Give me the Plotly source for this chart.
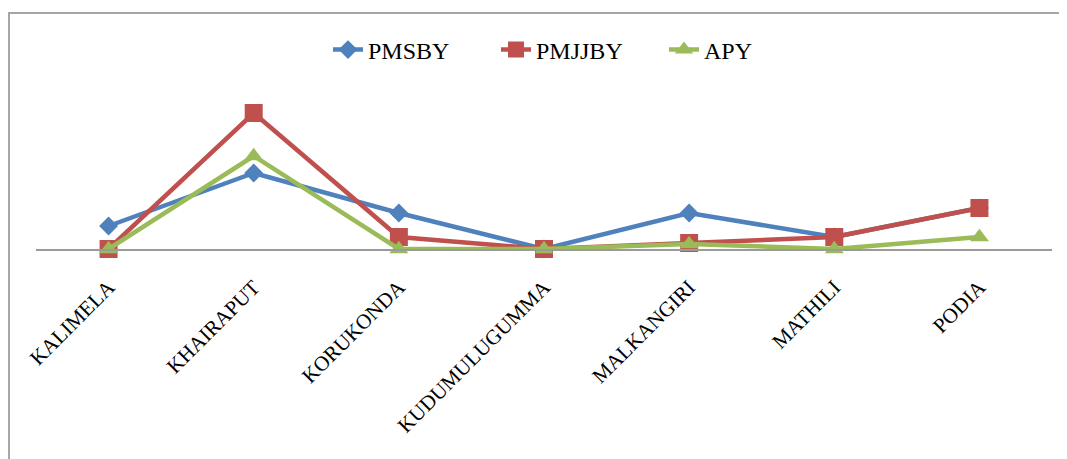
import plotly.graph_objects as go

categories = ["KALIMELA", "KHAIRAPUT", "KORUKONDA", "KUDUMULUGUMMA", "MALKANGIRI", "MATHILI", "PODIA"]
pmsby = [23, 76, 36, 0, 36, 12, 41]
pmjjby = [0, 136, 12, 0, 6, 12, 41]
apy = [0, 93, 0, 0, 5, 0, 12]

FONT = "Liberation Serif, Times New Roman, serif"

fig = go.Figure()
fig.add_trace(go.Scatter(x=categories, y=pmsby, name="PMSBY", mode="lines+markers",
                         line=dict(color="#4F81BD", width=4.5),
                         marker=dict(symbol="diamond", size=14.5, color="#4F81BD"),
                         cliponaxis=False))
fig.add_trace(go.Scatter(x=categories, y=pmjjby, name="PMJJBY", mode="lines+markers",
                         line=dict(color="#C0504D", width=4.5),
                         marker=dict(symbol="square", size=18, color="#C0504D"),
                         cliponaxis=False))
fig.add_trace(go.Scatter(x=categories, y=apy, name="APY", mode="lines+markers",
                         line=dict(color="#9BBB59", width=4.5),
                         marker=dict(symbol="triangle-up", size=16.5, color="#9BBB59"),
                         cliponaxis=False))

OFF = 8  # page body margin
W, H = 1067, 459
l = 36 - OFF
r = W - (1052 - OFF)
t = 100 - OFF
b = H - (249 - OFF)
pw = W - l - r
ph = H - t - b

def px_x(px):
    return (px - OFF - l) / pw

def px_y(py):
    return (H - b - (py - OFF)) / ph

fig.update_layout(
    width=W, height=H,
    margin=dict(l=l, r=r, t=t, b=b),
    paper_bgcolor="white", plot_bgcolor="white",
    font=dict(family=FONT, size=21, color="black"),
    showlegend=True,
    legend=dict(orientation="h", x=0.5 + 36 / pw, xanchor="center", xref="paper",
                y=px_y(50), yanchor="middle", font=dict(family=FONT, size=24),
                itemwidth=30, tracegroupgap=0, entrywidth=123, entrywidthmode="pixels"),
    xaxis=dict(range=[-0.5, 6.5], showgrid=False, zeroline=False,
               showline=True, linecolor="#9A9A9A", linewidth=1.5,
               ticks="", tickangle=-45, ticklabelstandoff=16,
               tickfont=dict(family=FONT, size=21, color="black")),
    yaxis=dict(range=[0, ph], showgrid=False, zeroline=False, showline=False,
               showticklabels=False, ticks=""),
    shapes=[dict(type="rect", xref="paper", yref="paper",
                 x0=px_x(9), x1=px_x(1085), y0=px_y(480), y1=px_y(13),
                 line=dict(color="#A6A6A6", width=2), layer="below")],
)

fig.write_html("out.html")
